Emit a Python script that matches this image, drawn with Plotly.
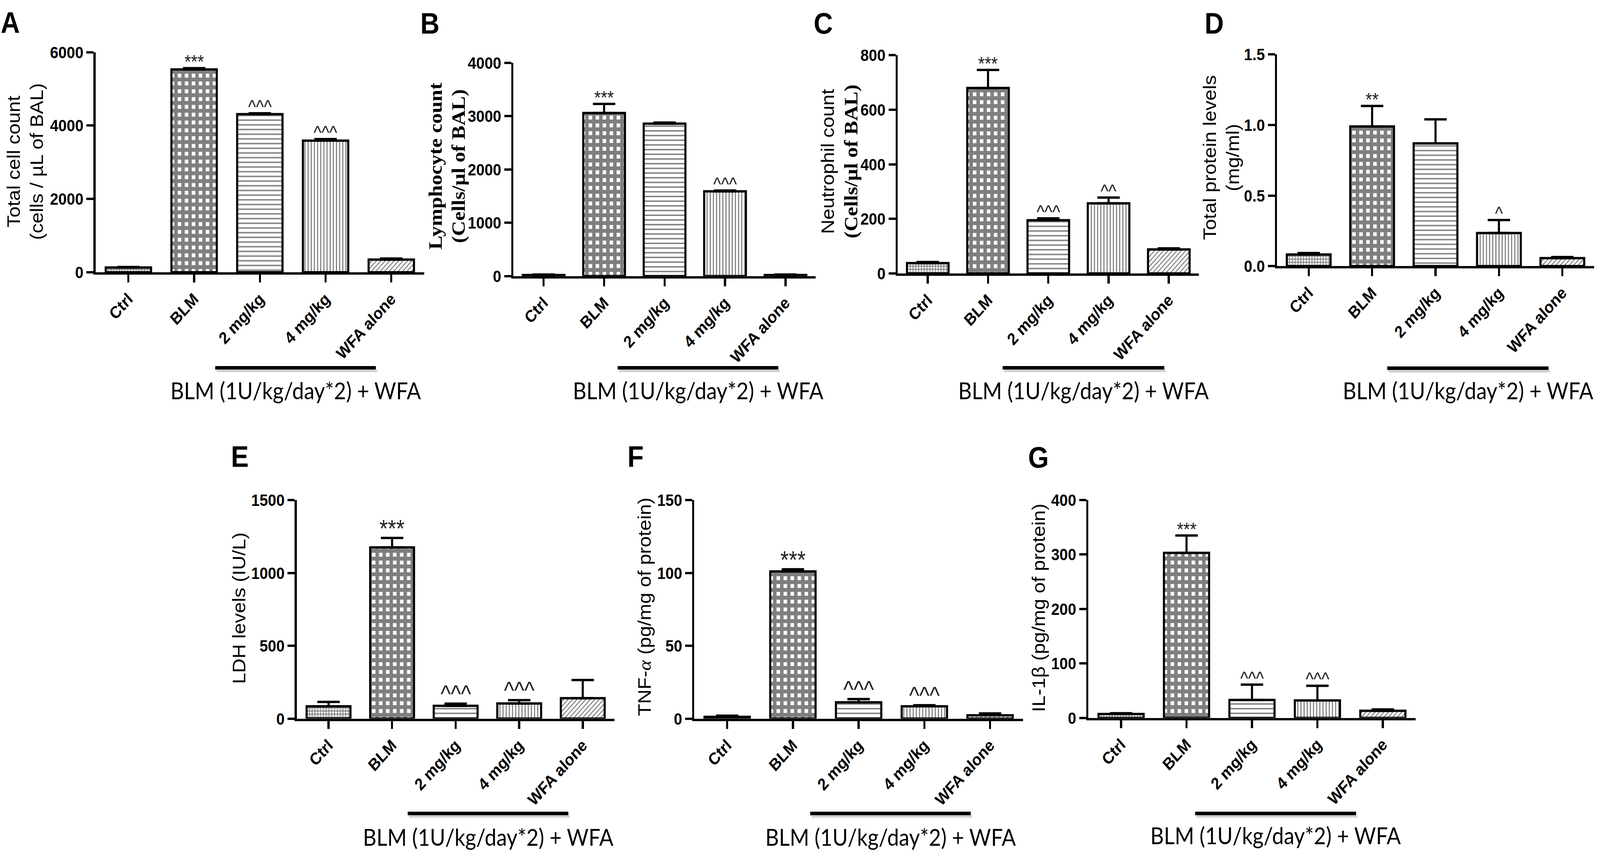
import plotly.graph_objects as go

W, H = 4572, 2204

# ---------------- data ----------------
categories = ["Ctrl", "BLM", "2 mg/kg", "4 mg/kg", "WFA alone"]

total_cells = [130, 5530, 4310, 3590, 345]
total_cells_err = [15, 35, 25, 40, 30]
total_cells_marks = ["", "***", "^^^", "^^^", ""]

lymphocytes = [20, 3060, 2860, 1590, 20]
lymphocytes_err = [10, 170, 20, 15, 10]
lymphocytes_marks = ["", "***", "", "^^^", ""]

neutrophils = [38, 680, 195, 257, 88]
neutrophils_err = [4, 66, 7, 21, 4]
neutrophils_marks = ["", "***", "^^^", "^^", ""]

protein = [0.083, 0.99, 0.87, 0.235, 0.057]
protein_err = [0.01, 0.145, 0.17, 0.092, 0.008]
protein_marks = ["", "**", "", "^", ""]

ldh = [85, 1175, 88, 104, 140]
ldh_err = [30, 65, 15, 23, 125]
ldh_marks = ["", "***", "^^^", "^^^", ""]

tnf = [1.2, 101, 11.2, 8.5, 2.3]
tnf_err = [0.8, 1.5, 2.2, 0.7, 1.3]
tnf_marks = ["", "***", "^^^", "^^^", ""]

il1b = [7, 303, 33, 32, 13]
il1b_err = [1.5, 32, 28, 27, 2.5]
il1b_marks = ["", "***", "^^^", "^^^", ""]

a_ticks = [0, 2000, 4000, 6000]
b_ticks = [0, 1000, 2000, 3000, 4000]
c_ticks = [0, 200, 400, 600, 800]
d_ticks = [0.0, 0.5, 1.0, 1.5]
e_ticks = [0, 500, 1000, 1500]
f_ticks = [0, 50, 100, 150]
g_ticks = [0, 100, 200, 300, 400]

group_label = "BLM (1U/kg/day*2) + WFA"

# ---------------- styling helpers ----------------
SANS = "Liberation Sans"
SERIF = "Liberation Serif"


def fx(px):
    return px / W


def fy(py):
    return 1 - py / H


panels = [
    dict(letter="A", vals=total_cells, err=total_cells_err, marks=total_cells_marks, ticks=a_ticks,
         x0=273, x1=1212, ytop=112, ybot=688, mark_size=48,
         title="Total cell count<br>(cells / µL of BAL)", title_x=72, title_y=398,
         letter_xy=(0, 34), group=(615, 1074, 938, 997)),
    dict(letter="B", vals=lymphocytes, err=lymphocytes_err, marks=lymphocytes_marks, ticks=b_ticks,
         x0=1467, x1=2331, ytop=140, ybot=698, mark_size=48,
         title=("<span style='font-family:Liberation Serif;font-weight:bold;font-size:54px'>Lymphocyte count<br>"
                "(Cells/µl of BAL)</span>"), title_x=1277, title_y=410,
         letter_xy=(1199, 36), group=(1765, 2224, 938, 997)),
    dict(letter="C", vals=neutrophils, err=neutrophils_err, marks=neutrophils_marks, ticks=c_ticks,
         x0=2565, x1=3426, ytop=120, ybot=691, mark_size=48,
         title=("Neutrophil count<br><span style='font-family:Liberation Serif;font-weight:bold;font-size:54px'>"
                "(Cells/µl of BAL)</span>"), title_x=2400, title_y=398,
         letter_xy=(2323, 36), group=(2865, 3327, 938, 997)),
    dict(letter="D", vals=protein, err=protein_err, marks=protein_marks, ticks=d_ticks,
         x0=3649, x1=4555, ytop=118, ybot=672, mark_size=48, fmt=".1f",
         title="Total protein levels<br>(mg/ml)", title_x=3490, title_y=388,
         letter_xy=(3440, 36), group=(3964, 4425, 939, 997)),
    dict(letter="E", vals=ldh, err=ldh_err, marks=ldh_marks, ticks=e_ticks,
         x0=848, x1=1756, ytop=1284, ybot=1856, mark_size=62,
         title="LDH levels (IU/L)", title_x=684, title_y=1567,
         letter_xy=(658, 1170), group=(1165, 1624, 2104, 2165)),
    dict(letter="F", vals=tnf, err=tnf_err, marks=tnf_marks, ticks=f_ticks,
         x0=1984, x1=2923, ytop=1284, ybot=1856, mark_size=62,
         title=("TNF-<span style='font-family:Liberation Serif;font-style:italic'>α</span>"
                " (pg/mg of protein)"), title_x=1843, title_y=1563,
         letter_xy=(1791, 1170), group=(2315, 2774, 2104, 2165)),
    dict(letter="G", vals=il1b, err=il1b_err, marks=il1b_marks, ticks=g_ticks,
         x0=3110, x1=4045, ytop=1284, ybot=1854, mark_size=48,
         title="IL-1β (pg/mg of protein)", title_x=2969, title_y=1566,
         letter_xy=(2936, 1172), group=(3415, 3875, 2104, 2161)),
]

pattern = dict(
    shape=["+", "+", "-", "|", "/"],
    size=[8, 20, 12, 9, 9],
    solidity=[0.5, 0.75, 0.3, 0.35, 0.3],
    fgcolor="black",
    bgcolor="white",
    fillmode="overlay",
)

fig = go.Figure()
annotations = []
shapes = []
layout_axes = {}

for i, p in enumerate(panels, start=1):
    xa = "x" if i == 1 else f"x{i}"
    ya = "y" if i == 1 else f"y{i}"
    fig.add_trace(go.Bar(
        x=categories, y=p["vals"], xaxis=xa, yaxis=ya,
        marker=dict(color="white", line=dict(color="black", width=6), pattern=pattern),
        error_y=dict(type="data", symmetric=False, array=p["err"], arrayminus=[0] * 5,
                     color="black", thickness=6, width=32),
        showlegend=False, hoverinfo="skip",
    ))
    xkey = "xaxis" if i == 1 else f"xaxis{i}"
    ykey = "yaxis" if i == 1 else f"yaxis{i}"
    layout_axes[xkey] = dict(
        domain=[fx(p["x0"]), fx(p["x1"])], anchor=ya, type="category",
        categoryorder="array", categoryarray=categories, range=[-0.5, 4.5],
        showline=True, linewidth=6, linecolor="black", ticks="outside",
        ticklen=20, tickwidth=6, tickcolor="black", tickangle=-45,
        tickfont=dict(family=SANS, size=43, color="black", weight="bold"),
        showgrid=False, zeroline=False, fixedrange=True,
    )
    layout_axes[ykey] = dict(
        domain=[fy(p["ybot"]), fy(p["ytop"])], anchor=xa,
        range=[p["ticks"][0], p["ticks"][-1]], tickmode="array", tickvals=p["ticks"],
        tickformat=p.get("fmt", "d"),
        showline=True, linewidth=6, linecolor="black", ticks="outside",
        ticklen=20, tickwidth=6, tickcolor="black",
        tickfont=dict(family=SANS, size=43, color="black", weight="bold"),
        showgrid=False, zeroline=False, fixedrange=True,
    )
    for c, v, e, m in zip(categories, p["vals"], p["err"], p["marks"]):
        if m:
            annotations.append(dict(
                x=c, y=v + e, xref=xa, yref=ya, text=m, showarrow=False,
                yanchor="bottom", xanchor="center", yshift=-12,
                font=dict(family=SANS, size=p["mark_size"], color="#222222"),
            ))
    lx, ly = p["letter_xy"]
    annotations.append(dict(
        x=fx(lx), y=fy(ly), xref="paper", yref="paper", text=p["letter"], showarrow=False,
        xanchor="left", yanchor="middle",
        font=dict(family=SANS, size=76, color="black", weight="bold"),
    ))
    annotations.append(dict(
        x=fx(p["title_x"]), y=fy(p["title_y"]), xref="paper", yref="paper", text=p["title"],
        showarrow=False, textangle=-90, xanchor="center", yanchor="middle",
        font=dict(family=SANS, size=51, color="black"),
    ))
    g0, g1, gy, ty = p["group"]
    shapes.append(dict(type="line", xref="paper", yref="paper",
                       x0=fx(g0 + 4), x1=fx(g1 + 4), y0=fy(gy + 8), y1=fy(gy + 8),
                       line=dict(color="#cfcfcf", width=6)))
    shapes.append(dict(type="line", xref="paper", yref="paper",
                       x0=fx(g0), x1=fx(g1), y0=fy(gy), y1=fy(gy),
                       line=dict(color="black", width=9)))
    annotations.append(dict(
        x=fx((g0 + g1) / 2), y=fy(ty), xref="paper", yref="paper", text=group_label,
        showarrow=False, xanchor="center", yanchor="middle",
        font=dict(family="Lato", size=60, color="black"),
    ))

fig.update_layout(
    width=W, height=H, autosize=False,
    margin=dict(l=0, r=0, t=0, b=0),
    paper_bgcolor="white", plot_bgcolor="white",
    bargap=0.31, showlegend=False,
    annotations=annotations, shapes=shapes,
    **layout_axes,
)

# fit the fixed-size figure exactly into the browser viewport
fit_js = """
(function(){
  var gd = document.getElementById('{plot_id}');
  var html = document.documentElement, body = document.body;
  html.style.margin = '0'; html.style.padding = '0'; html.style.overflow = 'hidden';
  body.style.margin = '0'; body.style.padding = '0'; body.style.overflow = 'hidden';
  var sx = window.innerWidth / %d, sy = window.innerHeight / %d;
  if (!(sx > 0)) { sx = 1; }
  if (!(sy > 0)) { sy = 1; }
  var wrap = gd.parentElement;
  wrap.style.width = (%d * sx) + 'px';
  wrap.style.height = (%d * sy) + 'px';
  wrap.style.overflow = 'hidden';
  gd.style.transformOrigin = '0 0';
  gd.style.transform = 'scale(' + sx + ',' + sy + ')';
})();
""" % (W, H, W, H)

fig.write_html("out.html", config=dict(displayModeBar=False), post_script=fit_js)
